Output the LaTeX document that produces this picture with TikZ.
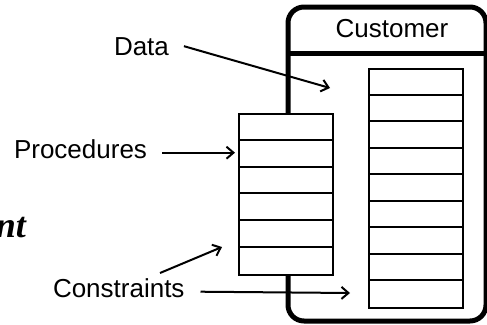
\documentclass[tikz,border=0pt]{standalone}
\usepackage{fontspec}
\setmainfont{Liberation Sans}
\newfontfamily\timesfont{Liberation Serif}
\usetikzlibrary{arrows.meta}

\begin{document}
\begin{tikzpicture}[x=1pt, y=-1pt, line width=2pt,
    >={Straight Barb[length=7pt, width=12pt]},
    lbl/.style={font=\fontsize{26}{30}\selectfont, inner sep=0pt},
    slots/.style={draw, line width=2pt, minimum width=94pt, inner sep=0pt, anchor=north west}]
  \useasboundingbox (0,0) rectangle (487,324);

  % object outline, broken where the procedures sit on it
  \draw[line width=5pt, rounded corners=16pt] (288,113) -- (288,7) -- (486,7)
        -- (486,321) -- (288,321) -- (288,274);
  \draw[line width=5pt] (288,53) -- (486,53);
  \node[lbl, anchor=base] (cust) at (392,37) {Customer};

  % data slots and procedure slots
  \node[slots, minimum height=239pt] (data) at (368,68) {};
  \foreach \i in {1,...,8}
    \draw (368, 68+\i*26.56) -- (462, 68+\i*26.56);
  \node[slots, minimum height=161pt] (procs) at (238,113) {};
  \foreach \i in {1,...,5}
    \draw (238, 113+\i*26.83) -- (332, 113+\i*26.83);

  % labels
  \node[lbl, anchor=base west] (datalbl) at (113,55) {Data};
  \node[lbl, anchor=base east] (proclbl) at (148,158) {Procedures};
  \node[lbl, anchor=base west] (conslbl) at (52,297) {Constraints};
  \node[font=\timesfont\bfseries\itshape\fontsize{36}{40}\selectfont, inner sep=0pt,
        anchor=base east] (word) at (27,237) {nt};

  \coordinate (datatip) at (330,88);
  \coordinate (constip) at (222,247);
  \coordinate (consfoot) at (160,273);
  \coordinate (constip2) at (350,293);

  \draw[->] ([xshift=14pt]datalbl.east) -- (datatip);
  \draw[->] ([xshift=14pt, yshift=-4pt]proclbl.east) -- ([xshift=-3pt, yshift=-4pt]proclbl.east -| procs.west);
  \draw[->] (consfoot) -- (constip);
  \draw[->] ([xshift=15pt, yshift=-4pt]conslbl.east) -- (constip2);
\end{tikzpicture}
\end{document}
